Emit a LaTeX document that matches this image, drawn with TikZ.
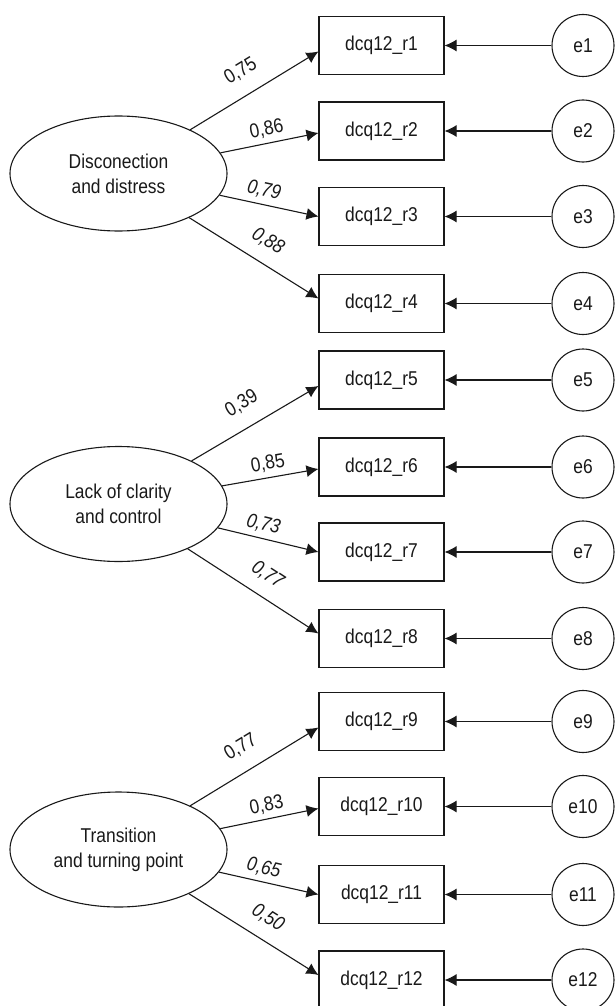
\documentclass[tikz,border=0pt]{standalone}
\usepackage{fontspec}
\setmainfont{Liberation Sans}[FakeStretch=0.87]
\usepackage{tikz}
\usetikzlibrary{arrows.meta,shapes.geometric}
\definecolor{semink}{RGB}{25,25,25}

\begin{document}
\begin{tikzpicture}[x=1pt, y=-1pt, >={Latex[length=12pt,width=12pt]}, line width=1.1pt, draw=semink,
  every node/.style={font=\fontsize{20}{25}\selectfont, text=semink},
  latent/.style={draw, ellipse, minimum width=217pt, minimum height=115pt, inner sep=0pt, align=center},
  item/.style={draw, minimum width=125pt, minimum height=58pt, inner sep=0pt},
  err/.style={draw, circle, minimum size=62pt, inner sep=0pt},
  load/.style={sloped, above=5pt, inner sep=0pt},
  loadi/.style={load, font=\fontsize{20}{25}\selectfont\itshape}]
\useasboundingbox (0,0) rectangle (615,1006);
\node[latent] (f1) at (118.5,173.5) {Disconection\\and distress};
\node[latent] (f2) at (118.5,504) {Lack of clarity\\and control};
\node[latent] (f3) at (118.5,849.5) {Transition\\and turning point};
\foreach \i/\y in {1/45.5,2/131,3/216.5,4/303.5,5/380,6/467,7/552,8/638.5,9/721.5,10/806.5,11/894.5,12/980} {
  \node[item] (r\i) at (381.5,\y) {dcq12\_r\i};
  \node[err] (e\i) at (583,\y) {e\i};
  \draw[->] (e\i) -- (r\i);
}
\draw[->] (f1) -- node[load,pos=0.49,above=10pt] {0,75} ([yshift=-6pt]r1.west);
\draw[->] (f1) -- node[load,pos=0.5] {0,86} ([yshift=-2pt]r2.west);
\draw[->] (f1) -- node[loadi,pos=0.42] {0,79} (r3.west);
\draw[->] (f1) -- node[loadi,pos=0.52,above=8pt] {0,88} ([yshift=5pt]r4.west);
\draw[->] (f2) -- node[load,pos=0.49,above=10pt] {0,39} ([yshift=-6pt]r5.west);
\draw[->] (f2) -- node[load,pos=0.5] {0,85} ([yshift=-2pt]r6.west);
\draw[->] (f2) -- node[loadi,pos=0.42] {0,73} (r7.west);
\draw[->] (f2) -- node[loadi,pos=0.52,above=8pt] {0,77} ([yshift=5pt]r8.west);
\draw[->] (f3) -- node[load,pos=0.49,above=10pt] {0,77} ([yshift=-6pt]r9.west);
\draw[->] (f3) -- node[load,pos=0.5] {0,83} ([yshift=-2pt]r10.west);
\draw[->] (f3) -- node[loadi,pos=0.42] {0,65} (r11.west);
\draw[->] (f3) -- node[loadi,pos=0.52,above=8pt] {0,50} ([yshift=5pt]r12.west);
\end{tikzpicture}
\end{document}
